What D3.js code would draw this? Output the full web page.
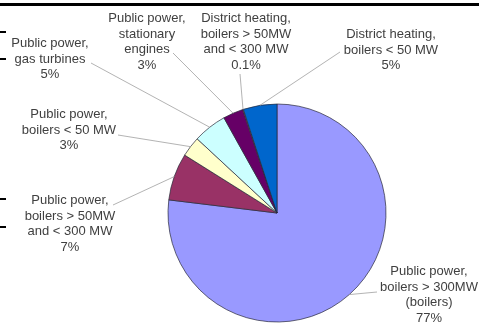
<!DOCTYPE html>
<html>
<head>
<meta charset="utf-8">
<script src="https://cdn.jsdelivr.net/npm/d3@7/dist/d3.min.js"></script>
<style>
  html, body { margin: 0; padding: 0; background: #fff; }
  svg { display: block; }
  text { font-family: "Liberation Sans", Arial, sans-serif; font-size: 13px; fill: #404040; }
</style>
</head>
<body>
<svg id="chart" width="479" height="323"></svg>
<script>
// Fuel-use shares by plant type
const categories = [
  "Public power, boilers > 300MW (boilers)",
  "Public power, boilers > 50MW and < 300 MW",
  "Public power, boilers < 50 MW",
  "Public power, gas turbines",
  "Public power, stationary engines",
  "District heating, boilers > 50MW and < 300 MW",
  "District heating, boilers < 50 MW"
];
const shares = [77, 7, 3, 5, 3, 0.1, 5];
const valueLabels = ["77%", "7%", "3%", "5%", "3%", "0.1%", "5%"];
const labelLines = [
  ["Public power,", "boilers > 300MW", "(boilers)"],
  ["Public power,", "boilers > 50MW", "and < 300 MW"],
  ["Public power,", "boilers < 50 MW"],
  ["Public power,", "gas turbines"],
  ["Public power,", "stationary", "engines"],
  ["District heating,", "boilers > 50MW", "and < 300 MW"],
  ["District heating,", "boilers < 50 MW"]
];
const colors = ["#9999ff", "#993366", "#ffffcc", "#ccffff", "#660066", "#ff8080", "#0066cc"];

// label placement: text centre x, first baseline y, leader start point
const labelLayout = [
  { x: 429, y: 275, lx: 377, ly: 292 },
  { x: 70,  y: 204, lx: 113, ly: 205 },
  { x: 69,  y: 118, lx: 118, ly: 135 },
  { x: 50,  y: 47,  lx: 91,  ly: 63 },
  { x: 147, y: 22,  lx: 173, ly: 53 },
  { x: 246, y: 22,  lx: 240, ly: 74 },
  { x: 391, y: 38,  lx: 340, ly: 52 }
];

const svg = d3.select("#chart");
const cx = 277, cy = 213, r = 109;
const lineGap = 15.5;

// soft rendering filter
svg.append("defs").append("filter")
  .attr("id", "soft")
  .attr("x", "-5%").attr("y", "-5%").attr("width", "110%").attr("height", "110%")
  .append("feGaussianBlur").attr("stdDeviation", 0.45);

const root = svg.append("g").attr("filter", "url(#soft)");

const pie = d3.pie().sort(null).value(d => d);
const arcs = pie(shares);
const arc = d3.arc().innerRadius(0).outerRadius(r);
const edge = d3.arc().innerRadius(r).outerRadius(r);

const g = root.append("g").attr("transform", `translate(${cx},${cy})`);

g.selectAll("path.slice")
  .data(arcs)
  .join("path")
  .attr("class", "slice")
  .attr("d", arc)
  .attr("fill", (d, i) => colors[i])
  .attr("stroke", "#2a2a3a")
  .attr("stroke-width", 0.7)
  .attr("stroke-linejoin", "round");

// leader lines from each label to the rim of its slice
root.selectAll("line.leader")
  .data(arcs)
  .join("line")
  .attr("class", "leader")
  .attr("x1", (d, i) => labelLayout[i].lx)
  .attr("y1", (d, i) => labelLayout[i].ly)
  .attr("x2", d => cx + edge.centroid(d)[0])
  .attr("y2", d => cy + edge.centroid(d)[1])
  .attr("stroke", "#a0a0a0")
  .attr("stroke-width", 0.8);

// labels
const lbl = root.selectAll("text.lbl")
  .data(arcs)
  .join("text")
  .attr("class", "lbl")
  .attr("text-anchor", "middle")
  .attr("x", (d, i) => labelLayout[i].x)
  .attr("y", (d, i) => labelLayout[i].y);

lbl.each(function(d, i) {
  const t = d3.select(this);
  const lines = labelLines[i].concat([valueLabels[i]]);
  lines.forEach((s, k) => {
    t.append("tspan")
      .attr("x", labelLayout[i].x)
      .attr("dy", k === 0 ? 0 : lineGap)
      .text(s);
  });
});

// frame edge along the top and tick marks at the left border
root.append("rect").attr("x", 0).attr("y", 3).attr("width", 479).attr("height", 3).attr("fill", "#000");
[32, 59, 199, 227].forEach(y => {
  root.append("rect").attr("x", 0).attr("y", y - 1).attr("width", 6).attr("height", 2).attr("fill", "#000");
});
</script>
</body>
</html>
